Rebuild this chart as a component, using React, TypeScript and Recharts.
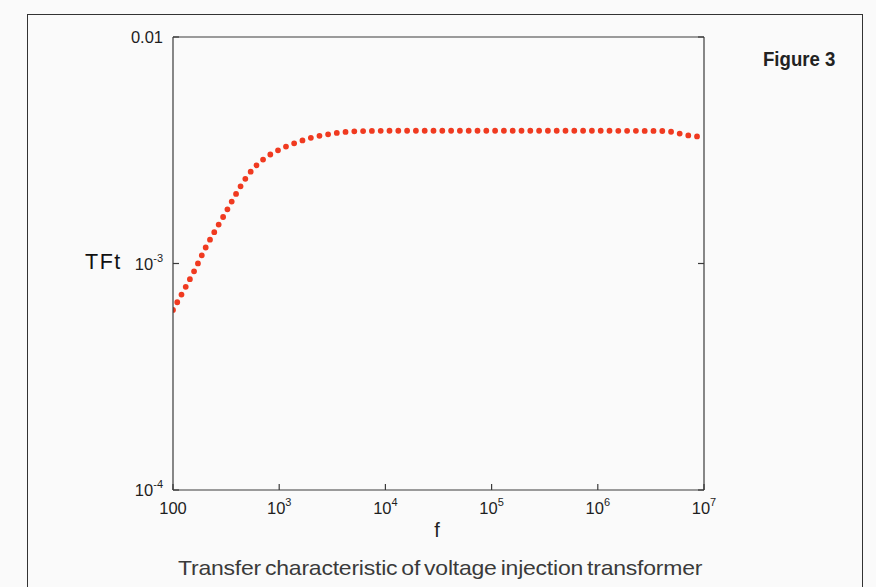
import React from 'react';
import { LineChart, Line, XAxis, YAxis } from 'recharts';

// frequency (Hz) and transfer characteristic TFt
const frequencies = [100, 130, 160, 200, 250, 300, 400, 500, 600, 800, 1000, 1500, 2000, 3000, 5000, 1e4, 1e5, 1e6, 4e6, 5e6, 6e6, 7e6, 8.5e6, 1e7];
const tftValues = [6.24e-4, 7.8e-4, 9.35e-4, 1.16e-3, 1.4e-3, 1.62e-3, 2.06e-3, 2.43e-3, 2.69e-3, 3.0e-3, 3.18e-3, 3.44e-3, 3.59e-3, 3.73e-3, 3.83e-3, 3.855e-3, 3.855e-3, 3.855e-3, 3.846e-3, 3.81e-3, 3.74e-3, 3.68e-3, 3.64e-3, 3.61e-3];

const xTicks = [100, 1e3, 1e4, 1e5, 1e6, 1e7];
const xTickBases = ['100', '10', '10', '10', '10', '10'];
const xTickExps = ['', '3', '4', '5', '6', '7'];

const yTicks = [1e-4, 1e-3, 1e-2];
const yTickBases = ['10', '10', '0.01'];
const yTickExps = ['-4', '-3', ''];

const xLabel = 'f';
const yLabel = 'TFt';
const figureLabel = 'Figure 3';
const caption = 'Transfer characteristic of voltage injection transformer';

const data = frequencies.map((f, i) => ({ f, v: tftValues[i] }));

const FONT = '"Liberation Sans", Arial, Helvetica, sans-serif';
const AXIS = '#3a3a3a';
const RED = '#f03a20';

const XTick = (props: any) => {
  const { x, y, index } = props;
  const base = xTickBases[index];
  const exp = xTickExps[index];
  return (
    <text x={x} y={y} dy={6} textAnchor="middle" fontFamily={FONT} fontSize={16.5} fill="#1e1e1e">
      <tspan>{base}</tspan>
      {exp ? <tspan dy={-8} fontSize={11}>{exp}</tspan> : null}
    </text>
  );
};

const YTick = (props: any) => {
  const { x, y, index } = props;
  const base = yTickBases[index];
  const exp = yTickExps[index];
  return (
    <text x={x} y={y} dy={6} textAnchor="end" fontFamily={FONT} fontSize={16.5} fill="#1e1e1e">
      <tspan>{base}</tspan>
      {exp ? <tspan dy={-8} fontSize={11}>{exp}</tspan> : null}
    </text>
  );
};

const Empty = () => <g />;

export default function App() {
  return (
    <div style={{ position: 'absolute', left: 0, top: 0, width: 876, height: 587, background: '#fafafa', overflow: 'hidden' }}>
      <div style={{ position: 'absolute', left: 27, top: 14, width: 836, height: 640, border: '1.5px solid #333', boxSizing: 'border-box' }} />
      <div style={{ position: 'absolute', left: 0, top: 0 }}>
        <LineChart width={876} height={587} data={data} margin={{ top: 36, right: 171, bottom: 57, left: 113 }}>
          <XAxis
            xAxisId="b"
            dataKey="f"
            type="number"
            scale="log"
            domain={[100, 1e7]}
            allowDataOverflow
            ticks={xTicks}
            interval={0}
            height={40}
            tickSize={-6}
            tickMargin={24}
            tick={XTick}
            axisLine={{ stroke: AXIS, strokeWidth: 1.2 }}
            tickLine={{ stroke: AXIS, strokeWidth: 1.2 }}
          />
          <XAxis
            xAxisId="t"
            orientation="top"
            type="number"
            scale="log"
            domain={[100, 1e7]}
            allowDataOverflow
            ticks={xTicks}
            interval={0}
            height={1}
            tickSize={-6}
            tick={Empty}
            axisLine={{ stroke: AXIS, strokeWidth: 1.2 }}
            tickLine={{ stroke: AXIS, strokeWidth: 1.2 }}
          />
          <YAxis
            yAxisId="l"
            type="number"
            scale="log"
            domain={[1e-4, 1e-2]}
            allowDataOverflow
            ticks={yTicks}
            interval={0}
            width={60}
            tickSize={-6}
            tickMargin={16}
            tick={YTick}
            axisLine={{ stroke: AXIS, strokeWidth: 1.2 }}
            tickLine={{ stroke: AXIS, strokeWidth: 1.2 }}
          />
          <YAxis
            yAxisId="r"
            orientation="right"
            type="number"
            scale="log"
            domain={[1e-4, 1e-2]}
            allowDataOverflow
            ticks={yTicks}
            interval={0}
            width={1}
            tickSize={-6}
            tick={Empty}
            axisLine={{ stroke: AXIS, strokeWidth: 1.2 }}
            tickLine={{ stroke: AXIS, strokeWidth: 1.2 }}
          />
          <Line
            xAxisId="b"
            yAxisId="l"
            dataKey="v"
            type="monotone"
            stroke={RED}
            strokeWidth={5.8}
            strokeDasharray="0 8.8"
            strokeLinecap="round"
            dot={false}
            activeDot={false}
            isAnimationActive={false}
          />
        </LineChart>
      </div>
      <div style={{ position: 'absolute', left: 85, top: 248, fontFamily: FONT, fontSize: 21.5, color: '#111', letterSpacing: 1.5, lineHeight: '28px' }}>{yLabel}</div>
      <div style={{ position: 'absolute', left: 437, top: 517, transform: 'translateX(-50%)', fontFamily: FONT, fontSize: 20, color: '#222', lineHeight: '26px' }}>{xLabel}</div>
      <div style={{ position: 'absolute', left: 763, top: 45, transform: 'scaleX(0.93)', transformOrigin: 'left center', whiteSpace: 'nowrap', fontFamily: FONT, fontWeight: 'bold', fontSize: 20, color: '#222', lineHeight: '28px' }}>{figureLabel}</div>
      <div style={{ position: 'absolute', left: 178, top: 555, transform: 'scaleX(1.095)', transformOrigin: 'left center', whiteSpace: 'nowrap', fontFamily: FONT, fontSize: 21, color: '#3a3a3a', letterSpacing: -0.2, wordSpacing: -2, lineHeight: '26px' }}>{caption}</div>
    </div>
  );
}
